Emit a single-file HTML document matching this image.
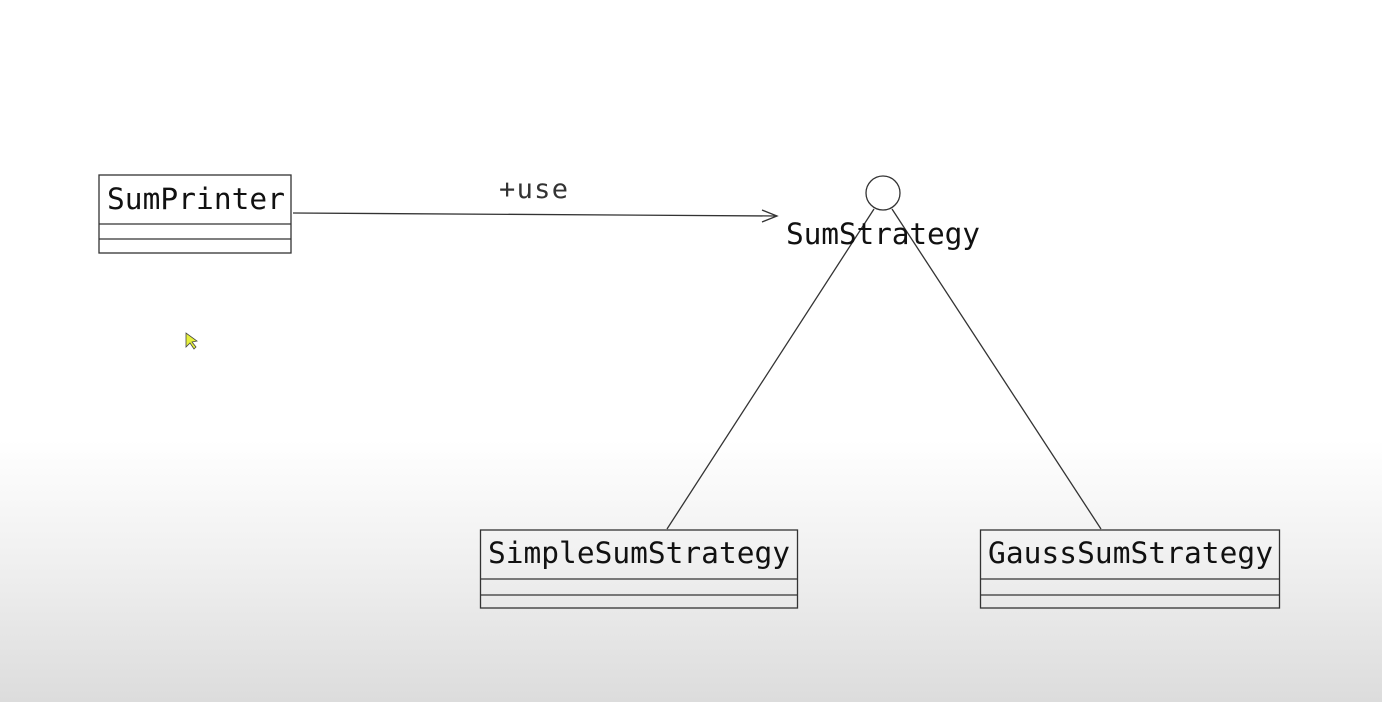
<!DOCTYPE html>
<html><head><style>
html,body{margin:0;padding:0}
body{width:1382px;height:702px;overflow:hidden;background:linear-gradient(to bottom,#fff 0px,#fff 440px,#f0f0f0 560px,#dcdcdc 702px);position:relative}
</style></head><body>
<svg width="1382" height="702" style="position:absolute;left:0;top:0" font-family="DejaVu Sans Mono, Liberation Mono, monospace">
<g fill="#fff" stroke="#333" stroke-width="1.3">
<rect x="99" y="175" width="192" height="78"/>
<rect x="480.5" y="530" width="317" height="78" fill="none"/>
<rect x="980.5" y="530" width="299" height="78" fill="none"/>
</g>
<g stroke="#333" stroke-width="1.3">
<line x1="99" y1="224" x2="291" y2="224"/><line x1="99" y1="239" x2="291" y2="239"/>
<line x1="480" y1="579" x2="797" y2="579"/><line x1="480" y1="595" x2="797" y2="595"/>
<line x1="980" y1="579" x2="1280" y2="579"/><line x1="980" y1="595" x2="1280" y2="595"/>
<line x1="293" y1="213" x2="777" y2="216"/>
<polyline points="762,210 777,216 762,222" fill="none"/>
<line x1="874" y1="209" x2="667" y2="529"/>
<line x1="892" y1="209" x2="1101" y2="529"/>
</g>
<circle cx="883" cy="193" r="17" fill="#fff" stroke="#333" stroke-width="1.3"/>
<g fill="#111" font-size="29.5">
<text x="107" y="209" textLength="178">SumPrinter</text>
<text x="488" y="563" textLength="302">SimpleSumStrategy</text>
<text x="988" y="563" textLength="285">GaussSumStrategy</text>
<text x="786" y="244" textLength="194">SumStrategy</text>
</g>
<text x="499" y="198" font-size="27" fill="#333" textLength="69">+use</text>
<polygon points="186,333 186,347 190,343 194,349 196,347 192,342 197,341" fill="#e6f03c" stroke="#444" stroke-width="0.8"/>
</svg>
</body></html>
